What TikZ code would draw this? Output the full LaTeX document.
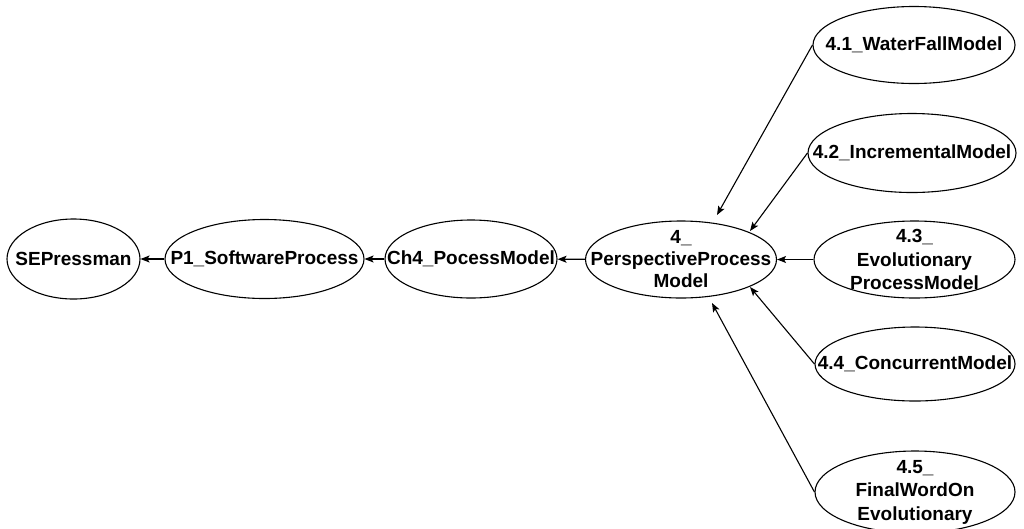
\documentclass[tikz,border=0pt]{standalone}
\usepackage{fontspec}
\setmainfont{Liberation Sans}
\usetikzlibrary{shapes.geometric,arrows.meta}
\begin{document}
\begin{tikzpicture}[x=1pt,y=-1pt,
  ell/.style={ellipse,draw,line width=1.1pt,inner sep=0pt},
  txt/.style={font=\fontsize{19}{23.5}\selectfont\bfseries,align=center,inner sep=0pt},
  arr/.style={line width=1.1pt,-{Stealth[length=9pt,width=7pt,inset=2pt]}}]
\clip (0,0) rectangle (1024,528);
\useasboundingbox (0,0) rectangle (1024,528);
\node[ell,minimum width=133pt,minimum height=80pt,label={[txt]center:SEPressman}] (se) at (73.5,259) {};
\node[ell,minimum width=199pt,minimum height=79pt,label={[txt]center:P1\_SoftwareProcess}] (p1) at (264.5,259) {};
\node[ell,minimum width=172pt,minimum height=78pt,label={[txt]center:Ch4\_PocessModel}] (ch4) at (471,259) {};
\node[ell,minimum width=191pt,minimum height=77pt,label={[txt,font=\fontsize{19}{22}\selectfont\bfseries]center:{4\_\\PerspectiveProcess\\Model}}] (p4) at (681,259.5) {};
\node[ell,minimum width=202pt,minimum height=77pt,label={[txt]center:4.1\_WaterFallModel}] (w41) at (914,45) {};
\node[ell,minimum width=208pt,minimum height=79pt,label={[txt]center:4.2\_IncrementalModel}] (w42) at (912,153) {};
\node[ell,minimum width=201pt,minimum height=77pt,label={[txt]center:{4.3\_\\Evolutionary\\ProcessModel}}] (w43) at (914.5,259.5) {};
\node[ell,minimum width=200pt,minimum height=74pt,label={[txt]center:4.4\_ConcurrentModel}] (w44) at (915,364) {};
\node[ell,minimum width=200pt,minimum height=82pt,label={[txt]center:{4.5\_\\FinalWordOn\\Evolutionary}}] (w45) at (915,492) {};
\coordinate (t41) at (717,215);
\coordinate (t42) at (750,231);
\coordinate (t44) at (750,287);
\coordinate (t45) at (712,303);
\draw[arr] (p1) -- (se);
\draw[arr] (ch4) -- (p1);
\draw[arr] (p4) -- (ch4);
\draw[arr] (w43) -- (p4);
\draw[arr] (w41.west) -- (t41);
\draw[arr] (w42.west) -- (t42);
\draw[arr] (w44.west) -- (t44);
\draw[arr] (w45.west) -- (t45);
\end{tikzpicture}
\end{document}
